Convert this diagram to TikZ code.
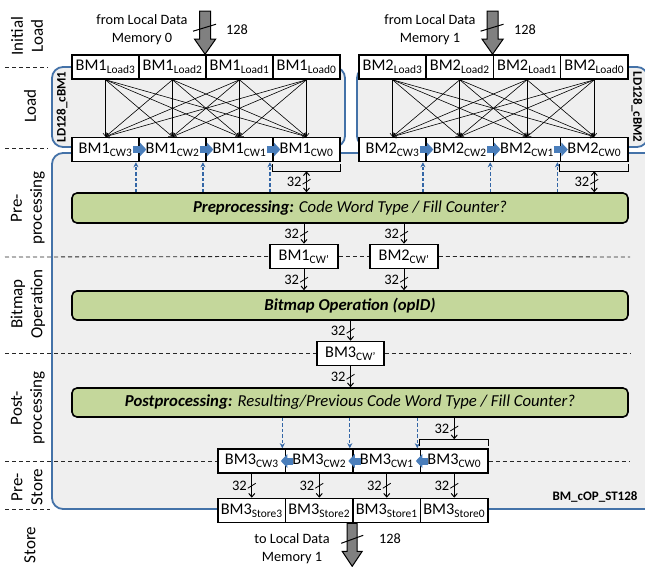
\documentclass[tikz,border=0pt]{standalone}
\usepackage{fontspec}
\setmainfont{Carlito}
\usetikzlibrary{arrows.meta,calc,decorations.markings}
\definecolor{bggray}{HTML}{EFEFEF}
\definecolor{frameblue}{HTML}{4472A8}
\definecolor{arrblue}{HTML}{4A7EBB}
\definecolor{dashblue}{HTML}{3366A6}
\definecolor{opgreen}{HTML}{C4D79B}
\definecolor{fatgray}{HTML}{808080}
\begin{document}
\begin{tikzpicture}[x=1pt,y=-1pt,
  bm/.style={draw, line width=1.6pt, fill=white, minimum width=67.25pt, minimum height=24pt, inner sep=0pt, font=\fontsize{16.3pt}{19pt}\selectfont},
  op/.style={draw, line width=1.6pt, fill=opgreen, rounded corners=5pt, minimum width=556pt, minimum height=30pt, inner sep=0pt, font=\fontsize{16.7pt}{19pt}\selectfont},
  frm/.style={draw=frameblue, line width=1.8pt, fill=bggray, rounded corners=11pt},
  side/.style={rotate=90, align=center, font=\fontsize{17pt}{20pt}\selectfont},
  txt/.style={align=center, font=\fontsize{14.3pt}{18pt}\selectfont},
  sep/.style={draw=black!85, line width=0.8pt, dash pattern=on 4pt off 3pt},
  xarr/.style={line width=0.6pt, -{Straight Barb[length=3pt,width=5pt]}},
  busline/.style={line width=1pt, postaction=decorate, decoration={markings, mark=at position 0.5 with {\draw[line width=0.8pt,-] (-2.5pt,4pt) -- (2.5pt,-4pt);}}},
  bus/.style={busline, -{Straight Barb[length=3.5pt,width=6pt]}},
  dbus/.style={busline, {Straight Barb[length=3.5pt,width=6pt]}-{Straight Barb[length=3.5pt,width=6pt]}},
  wd/.style={font=\fontsize{14.5pt}{17pt}\selectfont, inner sep=0pt},
  blk/.style={line width=7pt, draw=arrblue, -{Triangle[length=6.5pt,width=13.5pt]}},
  dblue/.style={draw=dashblue, line width=1.3pt, dash pattern=on 3.5pt off 2pt, -{Stealth[length=5pt,width=5pt]}},
  fat/.style={draw=black, line width=1pt, fill=fatgray},
  brk/.style={line width=1pt},
  flbl/.style={font=\bfseries\fontsize{13pt}{15pt}\selectfont}
]
\useasboundingbox (0,0) rectangle (645,567);
\clip (0,0) rectangle (645,567);

% frames
\draw[frm] (52,153) rectangle (700,509);
\draw[frm] (52,67) rectangle (345,147);
\draw[frm] (357,67) rectangle (648,147);

% side labels
\node[side] (sl1) at (27,36) {Initial\\Load};
\node[side] (sl2) at (30,106) {Load};
\node[side] (sl3) at (28,208) {Pre-\\processing};
\node[side] (sl4) at (28,304) {Bitmap\\Operation};
\node[side] (sl5) at (28,408) {Post-\\processing};
\node[side] (sl6) at (27,487) {Pre-\\Store};
\node[side] (sl7) at (30,545) {Store};

% frame labels
\node[flbl, rotate=90] (f1l) at (62,107) {LD128\_cBM1};
\node[flbl, rotate=-90] (f2l) at (637,107) {LD128\_cBM2};
\node[flbl] (f3l) at (595,497) {BM\_cOP\_ST128};

% operation boxes
\node[op] (p) at (350,208) {\textbf{\textit{Preprocessing:}} \textit{Code Word Type / Fill Counter?}};
\node[op, minimum height=29pt] (bop) at (350,305.5) {\textbf{\textit{Bitmap Operation (opID)}}};
\node[op, minimum height=29pt] (q) at (350,402.5) {\textbf{\textit{Postprocessing:}} \textit{Resulting/Previous Code Word Type / Fill Counter?}};

% separators
\draw[sep] (5,67) -- (48,67);
\draw[sep] (5,148) -- (48,148);
\draw[sep] (5,509) -- (50,509);

% boxes
\node[bm] (a3) at (105.5,67) {BM1\textsubscript{Load3}};
\node[bm] (a2) at (172.5,67) {BM1\textsubscript{Load2}};
\node[bm] (a1) at (239.5,67) {BM1\textsubscript{Load1}};
\node[bm] (a0) at (306.5,67) {BM1\textsubscript{Load0}};
\node[bm] (b3) at (392.5,67) {BM2\textsubscript{Load3}};
\node[bm] (b2) at (459.75,67) {BM2\textsubscript{Load2}};
\node[bm] (b1) at (527,67) {BM2\textsubscript{Load1}};
\node[bm] (b0) at (594.25,67) {BM2\textsubscript{Load0}};

\node[bm] (c3) at (105.5,149.5) {BM1\textsubscript{CW3}};
\node[bm] (c2) at (172.5,149.5) {BM1\textsubscript{CW2}};
\node[bm] (c1) at (239.5,149.5) {BM1\textsubscript{CW1}};
\node[bm] (c0) at (306.5,149.5) {BM1\textsubscript{CW0}};
\node[bm] (d3) at (392.5,149.5) {BM2\textsubscript{CW3}};
\node[bm] (d2) at (459.75,149.5) {BM2\textsubscript{CW2}};
\node[bm] (d1) at (527,149.5) {BM2\textsubscript{CW1}};
\node[bm] (d0) at (594.25,149.5) {BM2\textsubscript{CW0}};

\node[bm, minimum width=68pt] (b1p) at (304,256.5) {BM1\textsubscript{CW’}};
\node[bm, minimum width=68pt] (b2p) at (404,256.5) {BM2\textsubscript{CW’}};
\node[bm] (b3p) at (350.5,353.5) {BM3\textsubscript{CW’}};

\node[bm, minimum width=67.5pt] (e3) at (251.75,461) {BM3\textsubscript{CW3}};
\node[bm, minimum width=67.5pt] (e2) at (319.25,461) {BM3\textsubscript{CW2}};
\node[bm, minimum width=67.5pt] (e1) at (386.75,461) {BM3\textsubscript{CW1}};
\node[bm, minimum width=67.5pt] (e0) at (454.25,461) {BM3\textsubscript{CW0}};
\node[bm, minimum width=67.5pt] (g3) at (251.75,510.5) {BM3\textsubscript{Store3}};
\node[bm, minimum width=67.5pt] (g2) at (319.25,510.5) {BM3\textsubscript{Store2}};
\node[bm, minimum width=67.5pt] (g1) at (386.75,510.5) {BM3\textsubscript{Store1}};
\node[bm, minimum width=67.5pt] (g0) at (454.25,510.5) {BM3\textsubscript{Store0}};

% dashed separators that stop at boxes
\draw[sep] (5,257) -- (b1p.west);
\draw[sep] (b1p.east) -- (b2p.west);
\draw[sep] (b2p.east) -- (630,257);
\draw[sep] (5,353.5) -- (b3p.west);
\draw[sep] (b3p.east) -- (630,353.5);
\draw[sep] (5,461) -- (e3.west);
\draw[sep] (e0.east) -- (630,461);

% crossbar load arrows
\foreach \i in {0,...,3}{\foreach \j in {0,...,3}{
  \draw[xarr] (a\i.south) -- (c\j.north);
  \draw[xarr] (b\i.south) -- (d\j.north);
}}

% blue block arrows
\foreach \n in {c3,c2,c1,d3,d2,d1}{
  \draw[blk] ($(\n.east)+(-7,0)$) -- ($(\n.east)+(6.5,0)$);
}
\foreach \n in {e3,e2,e1}{
  \draw[blk] ($(\n.east)+(7,0)$) -- ($(\n.east)+(-5.5,0)$);
}

% blue dashed control arrows
\foreach \n in {c3,c2,c1,d3,d2,d1}{
  \draw[dblue] ($(\n.south east |- p.north)+(-4,0)$) -- ($(\n.south east)+(-4,0)$);
}
\foreach \n in {e3,e2,e1}{
  \draw[dblue] ($(\n.north east |- q.south)+(-4,0)$) -- ($(\n.north east)+(-4,0)$);
}

% brackets and 32-bit buses
\draw[brk] ($(c0.south west)+(0,2)$) -- ($(c0.south west)+(0,9)$) -- ($(c0.south east)+(0,9)$) -- ($(c0.south east)+(0,2)$);
\coordinate (br1) at ($(c0.south)+(0,9)$);
\draw[dbus] (br1) -- (p.north -| br1) node[wd, midway, left=4.5pt] {32};
\draw[brk] ($(d0.south west)+(0,2)$) -- ($(d0.south west)+(0,9)$) -- ($(d0.south east)+(0,9)$) -- ($(d0.south east)+(0,2)$);
\coordinate (br2) at ($(d0.south)+(0,9)$);
\draw[dbus] (br2) -- (p.north -| br2) node[wd, midway, left=4.5pt] {32};

\draw[bus] (p.south -| b1p) -- (b1p.north) node[wd, midway, left=4.5pt] {32};
\draw[bus] (p.south -| b2p) -- (b2p.north) node[wd, midway, left=4.5pt] {32};
\draw[bus] (b1p.south) -- (bop.north -| b1p) node[wd, midway, left=4.5pt] {32};
\draw[bus] (b2p.south) -- (bop.north -| b2p) node[wd, midway, left=4.5pt] {32};
\draw[bus] (bop.south -| b3p) -- (b3p.north) node[wd, midway, left=4.5pt] {32};
\draw[bus] (b3p.south) -- (q.north -| b3p) node[wd, midway, left=4.5pt] {32};

\draw[brk] ($(e0.north west)+(0,-2)$) -- ($(e0.north west)+(0,-9)$) -- ($(e0.north east)+(0,-9)$) -- ($(e0.north east)+(0,-2)$);
\coordinate (br3) at ($(e0.north)+(0,-9)$);
\draw[bus] (q.south -| br3) -- (br3) node[wd, midway, left=4.5pt] {32};

\foreach \i in {0,...,3}{
  \draw[bus] (e\i.south) -- (g\i.north) node[wd, midway, left=4.5pt] {32};
}

% fat input/output arrows
\coordinate (t1) at (a1.north west);
\coordinate (t2) at (b1.north west);
\coordinate (t3) at (g1.south west);
\draw[fat] ($(t1)+(-5.5,-43)$) -- ($(t1)+(5.5,-43)$) -- ($(t1)+(5.5,-15)$) -- ($(t1)+(10.5,-15)$) -- (t1) -- ($(t1)+(-10.5,-15)$) -- ($(t1)+(-5.5,-15)$) -- cycle;
\draw[fat] ($(t2)+(-5.5,-43)$) -- ($(t2)+(5.5,-43)$) -- ($(t2)+(5.5,-15)$) -- ($(t2)+(10.5,-15)$) -- (t2) -- ($(t2)+(-10.5,-15)$) -- ($(t2)+(-5.5,-15)$) -- cycle;
\draw[fat] ($(t3)+(-5,0)$) -- ($(t3)+(5,0)$) -- ($(t3)+(5,28)$) -- ($(t3)+(10,28)$) -- ($(t3)+(0,43)$) -- ($(t3)+(-10,28)$) -- ($(t3)+(-5,28)$) -- cycle;
\draw[line width=1pt] ($(t1)+(-12,-23)$) -- ($(t1)+(11,-30)$);
\draw[line width=1pt] ($(t2)+(-12,-23)$) -- ($(t2)+(11,-30)$);
\draw[line width=1pt] ($(t3)+(-11,20)$) -- ($(t3)+(11,12)$);

\node[txt] (in1) at (142,30) {from Local Data\\Memory 0};
\node[txt] (w1) at (237,30) {128};
\node[txt] (in2) at (430,30) {from Local Data\\Memory 1};
\node[txt] (w2) at (525,30) {128};
\node[txt] (out) at (292,549) {to Local Data\\Memory 1};
\node[txt] (w3) at (390,539) {128};
\end{tikzpicture}
\end{document}
